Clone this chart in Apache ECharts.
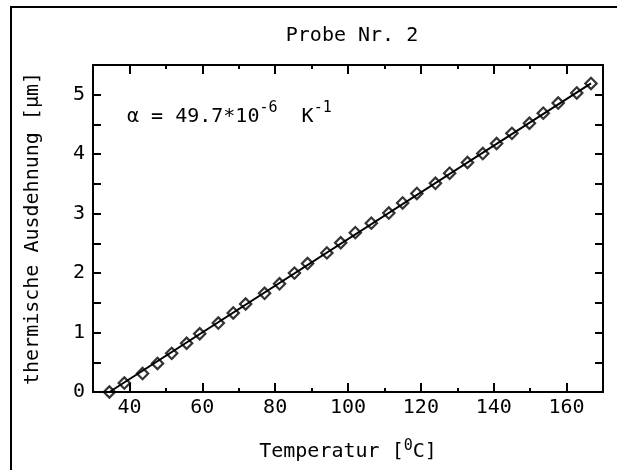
<!DOCTYPE html>
<html><head><meta charset="utf-8">
<script src="https://cdn.jsdelivr.net/npm/echarts@6/dist/echarts.min.js"></script>
<style>html,body{margin:0;padding:0;background:#fff}#c{width:617px;height:470px}</style>
</head><body><div id="c"></div>
<script>
// ---- data ----
const temperature = [34.5, 38.6, 43.6, 47.7, 51.6, 55.7, 59.3, 64.4, 68.5, 71.9, 77.1, 81.2, 85.3, 88.9, 94.2, 98.0, 102.0, 106.4, 111.2, 115.0, 118.9, 124.0, 127.9, 132.8, 137.0, 140.8, 145.0, 149.8, 153.6, 157.7, 162.8, 166.7];
const expansion   = [0.00, 0.15, 0.31, 0.48, 0.65, 0.82, 0.98, 1.16, 1.33, 1.48, 1.66, 1.82, 2.00, 2.16, 2.34, 2.51, 2.68, 2.84, 3.01, 3.18, 3.34, 3.51, 3.68, 3.86, 4.01, 4.18, 4.35, 4.52, 4.69, 4.86, 5.03, 5.19];
const fitTemperature = [34.5, 166.7];
const fitExpansion   = [0.0, 5.19];
const xTickLabels = [40, 60, 80, 100, 120, 140, 160];
const yTickLabels = [0, 1, 2, 3, 4, 5];
const titleText = 'Probe Nr. 2';
const xName = 'Temperatur [';
const yName = 'thermische Ausdehnung [μm]';

const FONT = 'DejaVu Sans Mono';
const FS = 20;
const BLACK = '#000';
const lineStyle = { color: BLACK, width: 2 };

function xAxisDef(position, withLabels, longTicks) {
  const ax = {
    type: 'value', position: position, min: 30, max: 170, interval: 10,
    axisLine: { show: withLabels, lineStyle: lineStyle },
    splitLine: { show: false },
    axisLabel: { show: false },
    axisTick: { show: true, inside: true, length: longTicks ? 9 : 4, lineStyle: lineStyle }
  };
  if (longTicks) ax.axisTick.customValues = xTickLabels;
  if (withLabels && position === 'bottom') {
    ax.axisLabel = {
      show: true, margin: 6, color: BLACK, fontFamily: FONT, fontSize: FS,
      formatter: v => xTickLabels.includes(v) ? String(v) : ''
    };
    ax.name = '{a|' + xName + '}{s|0}{a|C]}';
    ax.nameLocation = 'middle';
    ax.nameGap = 47;
    ax.nameTextStyle = {
      rich: {
        a: { fontFamily: FONT, fontSize: FS, color: BLACK, lineHeight: 26 },
        s: { fontFamily: FONT, fontSize: 15, color: BLACK, verticalAlign: 'top', lineHeight: 15 }
      }
    };
  }
  return ax;
}

function yAxisDef(position, withLabels) {
  const ax = {
    type: 'value', position: position, min: 0, max: 5.5, interval: 0.5,
    axisLine: { show: true, lineStyle: lineStyle },
    splitLine: { show: false },
    axisTick: { show: true, inside: true, length: 8, lineStyle: lineStyle },
    axisLabel: { show: false }
  };
  if (withLabels) {
    ax.axisLabel = {
      show: true, margin: 8, color: BLACK, fontFamily: FONT, fontSize: FS,
      formatter: v => yTickLabels.includes(v) ? String(v) : ''
    };
    ax.name = yName;
    ax.nameLocation = 'middle';
    ax.nameRotate = 90;
    ax.nameGap = 50;
    ax.nameTextStyle = { fontFamily: FONT, fontSize: FS, color: BLACK };
  }
  return ax;
}

const chart = echarts.init(document.getElementById('c'), null, { renderer: 'canvas' });
chart.setOption({
  backgroundColor: '#fff',
  animation: false,
  title: {
    text: titleText, left: 347, top: 21, textAlign: 'center',
    textStyle: { fontFamily: FONT, fontSize: FS, fontWeight: 'normal', color: BLACK }
  },
  grid: { left: 93, right: 14, top: 65, bottom: 78 },
  xAxis: [
    xAxisDef('bottom', true, false),
    xAxisDef('bottom', false, true),
    xAxisDef('top', true, false),
    xAxisDef('top', false, true)
  ],
  yAxis: [
    yAxisDef('left', true),
    yAxisDef('right', false)
  ],
  graphic: [
    {
      type: 'rect', silent: true,
      shape: { x: 11, y: 7, width: 640, height: 500 },
      style: { fill: 'none', stroke: BLACK, lineWidth: 2 }
    },
    {
      type: 'text', left: 127, top: 101,
      style: {
        text: '{m|α = 49.7*10}{s|-6}{m|  K}{s|-1}',
        rich: {
          m: { fontFamily: FONT, fontSize: FS, fill: BLACK, lineHeight: 32, verticalAlign: 'middle' },
          s: { fontFamily: FONT, fontSize: 15, fill: BLACK, lineHeight: 15, verticalAlign: 'top' }
        }
      }
    }
  ],
  series: [
    {
      type: 'line', xAxisIndex: 0, yAxisIndex: 0,
      data: fitTemperature.map((t, i) => [t, fitExpansion[i]]),
      symbol: 'none', lineStyle: { color: BLACK, width: 2 }, z: 2
    },
    {
      type: 'scatter', xAxisIndex: 0, yAxisIndex: 0,
      data: temperature.map((t, i) => [t, expansion[i]]),
      symbol: 'rect', symbolRotate: 45, symbolSize: 8,
      itemStyle: { color: 'rgba(0,0,0,0)', borderColor: BLACK, borderWidth: 2.2 }, z: 3
    }
  ]
});
</script>
</body></html>
